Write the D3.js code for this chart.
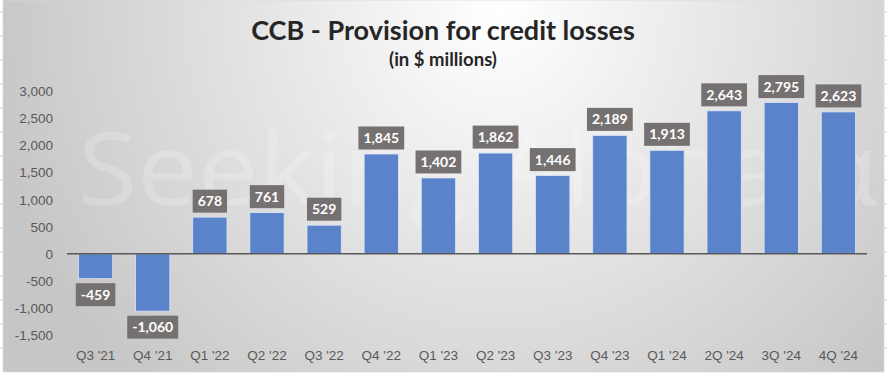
<!DOCTYPE html>
<meta charset="utf-8">
<style>
  body { margin: 0; }
  svg { display: block; font-family: Lato, "Open Sans", sans-serif; }
  .tick text { fill: #595959; font-size: 13.5px; }
  .lbl text { fill: #fff; font-size: 14px; font-weight: bold; }
</style>
<svg width="887" height="375"></svg>
<script src="https://cdn.jsdelivr.net/npm/d3@7"></script>
<script>
  var quarters = ["Q3 '21", "Q4 '21", "Q1 '22", "Q2 '22", "Q3 '22", "Q4 '22", "Q1 '23",
                  "Q2 '23", "Q3 '23", "Q4 '23", "Q1 '24", "2Q '24", "3Q '24", "4Q '24"];
  var provisions = [-459, -1060, 678, 761, 529, 1845, 1402, 1862, 1446, 2189, 1913, 2643, 2795, 2623];
  var yTicks = [-1500, -1000, -500, 0, 500, 1000, 1500, 2000, 2500, 3000];

  var svg = d3.select("svg"),
      width = +svg.attr("width"),
      height = +svg.attr("height");

  // excel style numbers: plain hyphen for negatives
  var fmt = function (d) { return d3.format(",")(d).replace("\u2212", "-"); };

  // background: sheet strip + radial grey gradient
  svg.append("rect").attr("width", width).attr("height", height).attr("fill", "#fff");
  var grad = svg.append("defs").append("radialGradient")
        .attr("id", "bg").attr("gradientUnits", "userSpaceOnUse")
        .attr("cx", 500).attr("cy", 15).attr("r", 520);
  grad.append("stop").attr("offset", "0%").attr("stop-color", "#ffffff");
  grad.append("stop").attr("offset", "100%").attr("stop-color", "#c6c6c6");
  svg.append("rect").attr("x", 3).attr("y", 0).attr("width", 881).attr("height", 372)
        .attr("fill", "url(#bg)").attr("stroke", "#d9d9d9").attr("stroke-width", 0.8);
  // sheet row lines peeking out at the edges
  d3.range(12, 372, 24).forEach(function (y) {
    svg.append("line").attr("x1", 0).attr("x2", 3).attr("y1", y).attr("y2", y).attr("stroke", "#d0d0d0");
    svg.append("line").attr("x1", 884).attr("x2", 887).attr("y1", y).attr("y2", y).attr("stroke", "#d0d0d0");
  });

  // watermark
  svg.append("text")
        .attr("x", 78).attr("y", 205)
        .attr("textLength", 800).attr("lengthAdjust", "spacingAndGlyphs")
        .attr("font-family", "'Open Sans', sans-serif").attr("font-size", 100)
        .attr("fill", "#fff").attr("fill-opacity", 0.2)
        .text("Seeking Alpha \u03B1");

  var x = d3.scaleBand().domain(quarters).range([67, 867]).paddingInner(0.4).paddingOuter(0.2);
  var y = d3.scaleLinear().domain([-1500, 3000]).range([335, 91.5]);

  svg.append("text").attr("x", 443).attr("y", 40).attr("text-anchor", "middle")
        .attr("font-size", 27).attr("font-weight", "bold").attr("fill", "#262626")
        .text("CCB - Provision for credit losses");
  svg.append("text").attr("x", 443).attr("y", 66).attr("text-anchor", "middle")
        .attr("font-size", 18.5).attr("font-weight", "bold").attr("fill", "#262626")
        .text("(in $ millions)");

  svg.append("g")
        .attr("transform", "translate(53,0)")
        .call(d3.axisLeft(y).tickValues(yTicks).tickSize(0).tickPadding(0).tickFormat(fmt))
        .call(function (g) { g.select(".domain").remove(); });

  svg.append("g")
        .attr("transform", "translate(0,355)")
        .call(d3.axisBottom(x).tickSize(0).tickPadding(0))
        .call(function (g) { g.select(".domain").remove(); })
        .selectAll("text").attr("dy", "0.35em");

  svg.append("g").selectAll("rect")
        .data(provisions)
        .enter().append("rect")
        .attr("x", function (d, i) { return x(quarters[i]); })
        .attr("width", x.bandwidth())
        .attr("y", function (d) { return y(Math.max(0, d)); })
        .attr("height", function (d) { return Math.abs(y(d) - y(0)); })
        .attr("fill", "#5b83ca")
        .attr("stroke", "#dbe5f5").attr("stroke-width", 0.8);

  svg.append("line")
        .attr("x1", 67).attr("x2", 867).attr("y1", y(0)).attr("y2", y(0))
        .attr("stroke", "#595959").attr("stroke-width", 1.5);

  // data labels
  var lbl = svg.append("g").attr("class", "lbl").selectAll("g")
        .data(provisions)
        .enter().append("g")
        .attr("transform", function (d, i) {
          var cx = x(quarters[i]) + x.bandwidth() / 2;
          var cy = d >= 0 ? y(d) - 16 : y(d) + 16;
          return "translate(" + cx + "," + cy + ")";
        });
  lbl.append("text")
        .attr("text-anchor", "middle").attr("dy", "0.36em")
        .text(fmt);
  lbl.each(function () {
    var g = d3.select(this), b = g.select("text").node().getBBox();
    g.insert("rect", "text")
          .attr("x", b.x - 5).attr("width", b.width + 10)
          .attr("y", -11.5).attr("height", 23)
          .attr("fill", "#767171");
  });
</script>
